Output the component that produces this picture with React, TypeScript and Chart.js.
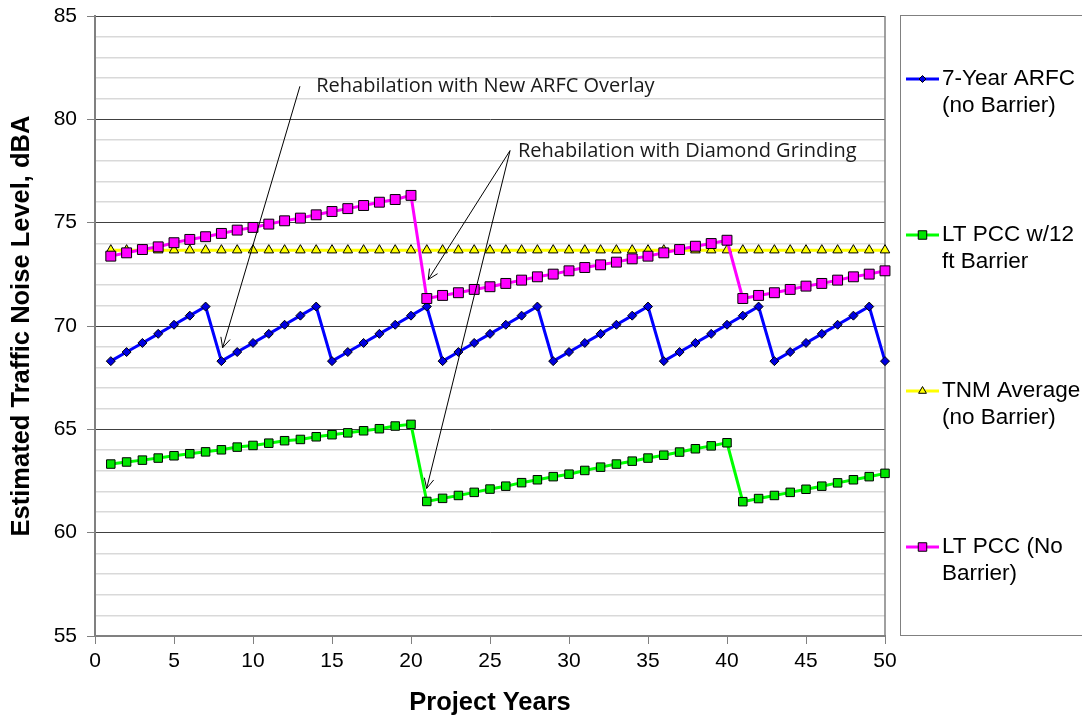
import React, { useEffect, useRef } from 'react';
import { Chart, registerables } from 'chart.js';

Chart.register(...registerables);

// ---------- data ----------
const years = [
  1, 2, 3, 4, 5, 6, 7, 8, 9, 10,
  11, 12, 13, 14, 15, 16, 17, 18, 19, 20,
  21, 22, 23, 24, 25, 26, 27, 28, 29, 30,
  31, 32, 33, 34, 35, 36, 37, 38, 39, 40,
  41, 42, 43, 44, 45, 46, 47, 48, 49, 50,
];

const arfc7Year = [
  68.30, 68.74, 69.18, 69.62, 70.06, 70.50, 70.94,
  68.30, 68.74, 69.18, 69.62, 70.06, 70.50, 70.94,
  68.30, 68.74, 69.18, 69.62, 70.06, 70.50, 70.94,
  68.30, 68.74, 69.18, 69.62, 70.06, 70.50, 70.94,
  68.30, 68.74, 69.18, 69.62, 70.06, 70.50, 70.94,
  68.30, 68.74, 69.18, 69.62, 70.06, 70.50, 70.94,
  68.30, 68.74, 69.18, 69.62, 70.06, 70.50, 70.94,
  68.30,
];

const ltPccBarrier = [
  63.32, 63.42, 63.51, 63.61, 63.72, 63.82, 63.91, 64.01, 64.14, 64.22,
  64.33, 64.45, 64.51, 64.64, 64.74, 64.83, 64.93, 65.03, 65.16, 65.24,
  61.51, 61.66, 61.80, 61.95, 62.11, 62.25, 62.42, 62.56, 62.71, 62.83,
  63.01, 63.17, 63.32, 63.46, 63.61, 63.75, 63.90, 64.06, 64.20, 64.35,
  61.50, 61.65, 61.80, 61.95, 62.10, 62.25, 62.41, 62.56, 62.71, 62.87,
];

const tnmAverage = [
  73.67, 73.67, 73.67, 73.67, 73.67, 73.67, 73.67, 73.67, 73.67, 73.67,
  73.67, 73.67, 73.67, 73.67, 73.67, 73.67, 73.67, 73.67, 73.67, 73.67,
  73.67, 73.67, 73.67, 73.67, 73.67, 73.67, 73.67, 73.67, 73.67, 73.67,
  73.67, 73.67, 73.67, 73.67, 73.67, 73.67, 73.67, 73.67, 73.67, 73.67,
  73.67, 73.67, 73.67, 73.67, 73.67, 73.67, 73.67, 73.67, 73.67, 73.67,
];

const ltPccNoBarrier = [
  73.38, 73.54, 73.70, 73.83, 74.03, 74.19, 74.32, 74.48, 74.64, 74.77,
  74.93, 75.09, 75.22, 75.38, 75.54, 75.68, 75.83, 75.99, 76.12, 76.32,
  71.33, 71.48, 71.61, 71.77, 71.90, 72.06, 72.22, 72.38, 72.51, 72.67,
  72.83, 72.96, 73.09, 73.25, 73.38, 73.54, 73.70, 73.86, 73.99, 74.15,
  71.33, 71.48, 71.61, 71.77, 71.93, 72.06, 72.22, 72.38, 72.51, 72.67,
];

const seriesNames = [
  ['7-Year ARFC', '(no Barrier)'],
  ['LT PCC w/12', 'ft Barrier'],
  ['TNM Average', '(no Barrier)'],
  ['LT PCC (No', 'Barrier)'],
];

const yAxisTitle = 'Estimated Traffic Noise Level, dBA';
const xAxisTitle = 'Project Years';

// annotation texts (data coords of left/middle anchor)
const annotationTexts = ['Rehabilation with New ARFC Overlay', 'Rehabilation with Diamond Grinding'];
const annotationX = [14.0, 26.77];
const annotationY = [81.59, 78.46];
// arrows in data coords
const arrowFromX = [12.97, 26.27, 26.27];
const arrowFromY = [81.6, 78.49, 78.49];
const arrowToX = [8.08, 21.09, 20.99];
const arrowToY = [68.95, 72.25, 62.14];

// ---------- styles ----------
const FONT = '"Liberation Sans", Arial, sans-serif';
const seriesStyles = [
  { line: '#0000FF', fill: '#0000E0', shape: 'rectRot', radius: 4.5, legendRadius: 3.5 },
  { line: '#00FF00', fill: '#00E600', shape: 'rect', radius: 6, legendRadius: 6 },
  { line: '#FFFF00', fill: '#FFFF00', shape: 'triangle', radius: 5.5, legendRadius: 4.5 },
  { line: '#FF00FF', fill: '#FF00FF', shape: 'rect', radius: 7, legendRadius: 6 },
];
const seriesData = [arfc7Year, ltPccBarrier, tnmAverage, ltPccNoBarrier];

function drawMarker(ctx: CanvasRenderingContext2D, shape: string, x: number, y: number, r: number, fill: string) {
  ctx.save();
  ctx.beginPath();
  if (shape === 'rectRot') {
    ctx.moveTo(x, y - r);
    ctx.lineTo(x + r, y);
    ctx.lineTo(x, y + r);
    ctx.lineTo(x - r, y);
    ctx.closePath();
  } else if (shape === 'rect') {
    const s = r * Math.SQRT1_2;
    ctx.rect(x - s, y - s, 2 * s, 2 * s);
  } else {
    const h = r * 1.5;
    const w = r * Math.sqrt(3) / 2;
    ctx.moveTo(x, y - h * 0.66);
    ctx.lineTo(x + w, y + h * 0.34);
    ctx.lineTo(x - w, y + h * 0.34);
    ctx.closePath();
  }
  ctx.fillStyle = fill;
  ctx.fill();
  ctx.lineWidth = 1;
  ctx.strokeStyle = '#000';
  ctx.stroke();
  ctx.restore();
}

const frameAndLegend = {
  id: 'frameAndLegend',
  beforeDatasetsDraw(chart: any) {
    const { ctx, chartArea } = chart;
    ctx.save();
    ctx.strokeStyle = '#808080';
    ctx.lineWidth = 1.5;
    ctx.beginPath();
    ctx.moveTo(chartArea.right, chartArea.top);
    ctx.lineTo(chartArea.right, chartArea.bottom);
    ctx.stroke();
    ctx.restore();
  },
  afterDraw(chart: any) {
    const { ctx } = chart;
    const xs = chart.scales.x;
    const ys = chart.scales.y;
    ctx.save();
    // annotations
    ctx.strokeStyle = '#000';
    ctx.lineWidth = 1;
    for (let i = 0; i < arrowFromX.length; i++) {
      const x0 = xs.getPixelForValue(arrowFromX[i]);
      const y0 = ys.getPixelForValue(arrowFromY[i]);
      const x1 = xs.getPixelForValue(arrowToX[i]);
      const y1 = ys.getPixelForValue(arrowToY[i]);
      ctx.beginPath();
      ctx.moveTo(x0, y0);
      ctx.lineTo(x1, y1);
      const ang = Math.atan2(y1 - y0, x1 - x0);
      const L = 11;
      const spread = 0.45;
      ctx.moveTo(x1 - L * Math.cos(ang - spread), y1 - L * Math.sin(ang - spread));
      ctx.lineTo(x1, y1);
      ctx.lineTo(x1 - L * Math.cos(ang + spread), y1 - L * Math.sin(ang + spread));
      ctx.stroke();
    }
    ctx.fillStyle = '#1a1a1a';
    ctx.font = '20px "Open Sans", "Noto Sans", sans-serif';
    ctx.textAlign = 'left';
    ctx.textBaseline = 'middle';
    for (let i = 0; i < annotationTexts.length; i++) {
      ctx.fillText(annotationTexts[i], xs.getPixelForValue(annotationX[i]), ys.getPixelForValue(annotationY[i]));
    }

    // legend
    ctx.strokeStyle = '#808080';
    ctx.lineWidth = 1;
    ctx.strokeRect(900.5, 15.5, 220, 620);
    ctx.font = `22.5px ${FONT}`;
    ctx.fillStyle = '#000';
    for (let i = 0; i < seriesNames.length; i++) {
      const yc = 79 + i * 156;
      const st = seriesStyles[i];
      ctx.strokeStyle = st.line;
      ctx.lineWidth = 3;
      ctx.beginPath();
      ctx.moveTo(906, yc);
      ctx.lineTo(939, yc);
      ctx.stroke();
      drawMarker(ctx, st.shape, 922.5, yc, st.legendRadius, st.fill);
      ctx.fillStyle = '#000';
      seriesNames[i].forEach((t, j) => ctx.fillText(t, 942, yc + j * 27));
    }
    ctx.restore();
  },
};

export default function App() {
  const ref = useRef<HTMLCanvasElement>(null);
  useEffect(() => {
    Chart.defaults.font.family = FONT;
    Chart.defaults.color = '#000';
    const datasets = seriesData.map((vals, i) => ({
      label: seriesNames[i].join(' '),
      data: years.map((x, k) => ({ x, y: vals[k] })),
      borderColor: seriesStyles[i].line,
      borderWidth: 3,
      pointStyle: seriesStyles[i].shape,
      pointRadius: seriesStyles[i].radius,
      pointBackgroundColor: seriesStyles[i].fill,
      pointBorderColor: '#000',
      pointBorderWidth: 1,
      tension: 0,
      clip: false,
      order: 4 - i,
    }));
    const isMajor = (c: any) => c.tick && Math.round(c.tick.value) % 5 === 0;
    const chart = new Chart(ref.current!, {
      type: 'line',
      data: { datasets: datasets as any },
      plugins: [frameAndLegend],
      options: {
        responsive: false,
        animation: false,
        layout: { padding: { top: 16, right: 197, left: 0, bottom: 0 } },
        plugins: { legend: { display: false }, tooltip: { enabled: false } },
        scales: {
          x: {
            type: 'linear',
            min: 0,
            max: 50,
            afterFit: (s: any) => { s.height = 81; },
            ticks: { stepSize: 5, color: '#000', font: { size: 21 }, padding: 5, maxRotation: 0 },
            grid: { drawOnChartArea: false, drawTicks: true, tickLength: 8, tickColor: '#808080', color: '#808080' },
            border: { color: '#808080', width: 2 },
            title: { display: true, text: xAxisTitle, color: '#000', font: { size: 25.5, weight: 'bold', lineHeight: 1 }, padding: { top: 0, bottom: 1 } },
          },
          y: {
            type: 'linear',
            min: 55,
            max: 85,
            afterFit: (s: any) => { s.width = 95; },
            ticks: {
              stepSize: 1,
              autoSkip: false,
              color: '#000',
              font: { size: 21, lineHeight: 0.5 },
              padding: 10,
              callback: (v: any) => (Math.round(v) % 5 === 0 ? String(v) : ''),
            },
            grid: {
              color: (c: any) => (isMajor(c) ? '#404040' : '#d9d9d9'),
              lineWidth: (c: any) => (isMajor(c) ? 1 : 1.5),
              tickColor: (c: any) => (isMajor(c) ? '#808080' : 'rgba(0,0,0,0)'),
              tickLength: 8,
              drawTicks: true,
            },
            border: { color: '#808080', width: 2 },
            title: { display: true, text: yAxisTitle, color: '#000', font: { size: 25.5, weight: 'bold', lineHeight: 1 }, padding: { top: 9, bottom: 0 } },
          },
        },
      } as any,
    });
    return () => chart.destroy();
  }, []);
  return (
    <div style={{ position: 'absolute', left: 0, top: 0, width: 1082, height: 717, background: '#fff' }}>
      <canvas ref={ref} width={1082} height={717} />
    </div>
  );
}
